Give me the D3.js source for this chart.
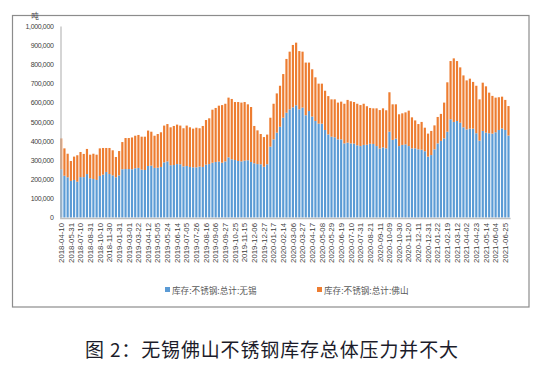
<!DOCTYPE html>
<html><head><meta charset="utf-8">
<script src="https://cdn.jsdelivr.net/npm/d3@7"></script>
<style>html,body{margin:0;padding:0;background:#fff;}svg{display:block;}</style>
</head><body>
<svg id="chart" width="546" height="366"></svg>
<script>
// Tick labels (every third bar)
const tickLabels = ["2018-04-10","2018-05-31","2018-07-10","2018-08-31","2018-10-10","2018-11-30",
"2019-01-31","2019-03-01","2019-03-22","2019-04-12","2019-05-05","2019-05-24","2019-06-14","2019-07-05",
"2019-07-26","2019-08-16","2019-09-06","2019-09-27","2019-10-25","2019-11-15","2019-12-06","2019-12-27",
"2020-01-17","2020-02-14","2020-03-06","2020-03-27","2020-04-17","2020-05-08","2020-05-29","2020-06-19",
"2020-07-10","2020-07-31","2020-08-21","2020-09-11","2020-10-09","2020-10-30","2020-11-20","2020-12-11",
"2020-12-31","2021-01-22","2021-02-19","2021-03-12","2021-04-02","2021-04-23","2021-05-14","2021-06-04",
"2021-06-25"];

// 库存:不锈钢:总计:无锡 (吨)
const wuxi = [252,218,210,191,196,187,211,211,227,205,201,196,217,224,238,227,220,210,220,252,
253,253,252,257,259,250,248,269,271,259,260,264,288,293,273,274,279,278,267,269,
264,262,262,266,264,276,279,286,290,292,286,293,314,304,300,295,293,297,299,290,
283,279,278,265,278,370,408,443,474,521,547,565,575,586,565,574,534,556,527,504,
490,490,457,434,422,419,408,408,387,391,387,386,377,373,379,380,385,384,373,360,
366,361,448,405,412,373,379,382,373,361,361,356,354,346,318,326,356,387,400,413,
448,513,499,504,495,471,460,464,464,440,401,452,443,440,438,445,457,465,457,428].map(v => v * 1000);

// 合计 (无锡+佛山), 用于求 佛山
const total = [413,361,333,295,318,325,342,332,358,328,333,328,361,363,363,363,351,316,347,394,
415,415,418,427,431,422,422,454,448,427,436,445,480,488,471,478,485,480,466,480,
471,464,469,466,478,509,518,563,572,584,587,594,626,619,603,603,600,603,591,577,
478,455,436,420,433,521,594,648,688,749,828,866,901,913,869,866,809,809,774,732,
699,699,662,634,617,617,600,605,594,614,607,603,594,587,594,581,572,570,570,561,
570,560,654,591,591,539,544,549,558,523,507,488,499,469,438,452,481,525,541,600,
706,817,831,817,784,742,716,725,708,688,617,704,685,652,635,626,628,631,614,582].map(v => v * 1000);

// 库存:不锈钢:总计:佛山 (吨)
const foshan = total.map((t, i) => t - wuxi[i]);

const yTicks = [0,100000,200000,300000,400000,500000,600000,700000,800000,900000,1000000];
const seriesNames = ["库存:不锈钢:总计:无锡", "库存:不锈钢:总计:佛山"];
const colors = ["#5B9BD5", "#ED7D31"];

const svg = d3.select("#chart");
const n = wuxi.length;

// outer frame
svg.append("rect").attr("x", 12.5).attr("y", 15.5).attr("width", 516.5).attr("height", 291.5)
  .attr("fill", "none").attr("stroke", "#8c8c8c").attr("stroke-width", 1.2);

const x = d3.scaleBand().domain(d3.range(n)).range([59.6, 510.1]).paddingInner(0.32).paddingOuter(0.16);
const y = d3.scaleLinear().domain([0, 1000000]).range([217.5, 26]);

// bars
const stackData = d3.range(n).map(i => ({i, wuxi: wuxi[i], foshan: foshan[i]}));
const stack = d3.stack().keys(["wuxi", "foshan"])(stackData);
svg.append("g").selectAll("g").data(stack).join("g")
  .attr("fill", (d, k) => colors[k])
  .selectAll("rect").data(d => d).join("rect")
  .attr("x", d => x(d.data.i))
  .attr("width", x.bandwidth())
  .attr("y", d => y(d[1]))
  .attr("height", d => y(d[0]) - y(d[1]));

// y axis
const yAxis = svg.append("g").attr("transform", "translate(60.5,0)")
  .call(d3.axisLeft(y).tickValues(yTicks).tickSize(0).tickPadding(7).tickFormat(d3.format(",")));
yAxis.select(".domain").attr("stroke", "#bfbfbf").attr("stroke-width", 1.3);
yAxis.selectAll("text").attr("font-family", "Liberation Sans, Arial, sans-serif")
  .attr("font-size", 7).attr("letter-spacing", -0.35).attr("fill", "#404040");

// x axis
const xAxis = svg.append("g").attr("transform", "translate(0,218)")
  .call(d3.axisBottom(x).tickValues(d3.range(0, n, 3)).tickSize(0)
    .tickFormat(i => tickLabels[i / 3]));
xAxis.select(".domain").attr("stroke", "#bfbfbf").attr("stroke-width", 1.3);
xAxis.selectAll("text")
  .attr("font-family", "Liberation Sans, Arial, sans-serif").attr("font-size", 7.8)
  .attr("fill", "#404040")
  .attr("text-anchor", "end")
  .attr("transform", "rotate(-90)")
  .attr("x", -5).attr("y", 0).attr("dy", "0.35em");

// unit
svg.append("text").attr("x", 35).attr("y", 19).attr("text-anchor", "middle")
  .attr("font-family", "Noto Sans CJK SC, sans-serif").attr("font-size", 7.5)
  .attr("fill", "#404040").text("吨");

// legend
const legendX = [165, 317];
const lg = svg.append("g");
seriesNames.forEach((name, k) => {
  lg.append("rect").attr("x", legendX[k]).attr("y", 287).attr("width", 5).attr("height", 5).attr("fill", colors[k]);
  lg.append("text").attr("x", legendX[k] + 7).attr("y", 293.5)
    .attr("font-family", "Noto Sans CJK SC, sans-serif").attr("font-size", 8.6)
    .attr("fill", "#595959").text(name);
});

// caption
svg.append("text").attr("x", 85).attr("y", 357)
  .attr("font-family", "Noto Sans CJK SC, sans-serif").attr("font-size", 19)
  .attr("fill", "#1c1c2a").attr("textLength", 373).attr("lengthAdjust", "spacing")
  .text("图 2：无锡佛山不锈钢库存总体压力并不大");
</script>
</body></html>
